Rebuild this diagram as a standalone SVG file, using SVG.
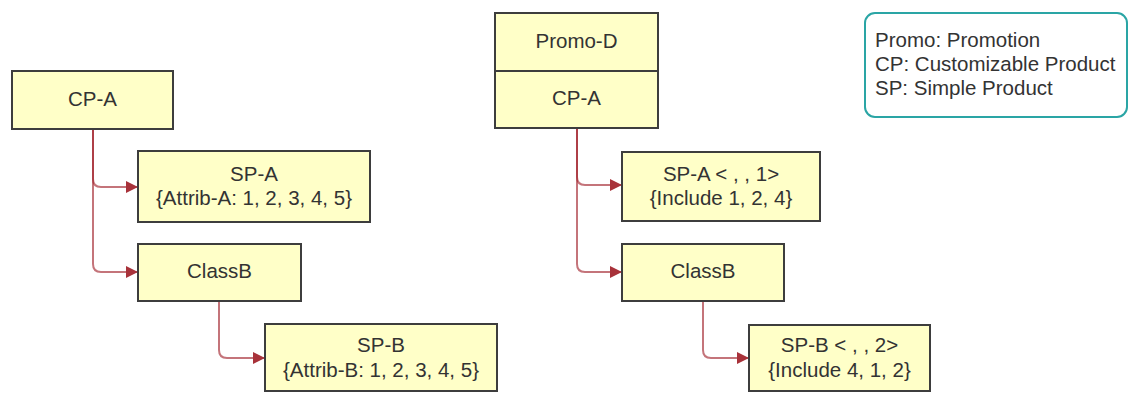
<svg xmlns="http://www.w3.org/2000/svg" width="1129" height="393" viewBox="0 0 1129 393">
<defs>
<style>
.box{fill:#ffffc8;stroke:#3d3d3d;stroke-width:2}
.t{font-family:"Liberation Sans",Arial,sans-serif;font-size:20.5px;fill:#333;text-anchor:middle}
.lg{font-family:"Liberation Sans",Arial,sans-serif;font-size:20.5px;fill:#333}
.c{fill:none;stroke:#a01e28;stroke-opacity:0.62;stroke-width:2}
</style>
<marker id="arr" markerUnits="userSpaceOnUse" markerWidth="13" markerHeight="13" refX="12" refY="6" orient="auto">
<path d="M0,0 L12,6 L0,12 z" fill="#a8323a"/>
</marker>
</defs>
<rect width="1129" height="393" fill="#fff"/>
<g id="connectors">
<path class="c" d="M93,129 V179 Q93,187 101,187 H138" marker-end="url(#arr)"/>
<path class="c" d="M93,129 V264 Q93,272 101,272 H138" marker-end="url(#arr)"/>
<path class="c" d="M219,301 V350 Q219,358 227,358 H265" marker-end="url(#arr)"/>
<path class="c" d="M577,128 V177 Q577,185 585,185 H622" marker-end="url(#arr)"/>
<path class="c" d="M577,128 V264 Q577,272 585,272 H622" marker-end="url(#arr)"/>
<path class="c" d="M703,301 V350 Q703,358 711,358 H749" marker-end="url(#arr)"/>
</g>
<g id="cpa-left">
<rect class="box" x="12" y="71" width="161" height="58"/>
<text class="t" x="92.5" y="106">CP-A</text>
</g>
<g id="spa-left">
<rect class="box" x="138" y="151" width="232" height="71"/>
<text class="t" x="254" y="181">SP-A</text>
<text class="t" x="254" y="205">{Attrib-A: 1, 2, 3, 4, 5}</text>
</g>
<g id="classb-left">
<rect class="box" x="138" y="244" width="163" height="57"/>
<text class="t" x="219.5" y="278">ClassB</text>
</g>
<g id="spb-left">
<rect class="box" x="265" y="324" width="232" height="67"/>
<text class="t" x="381" y="352">SP-B</text>
<text class="t" x="381" y="377">{Attrib-B: 1, 2, 3, 4, 5}</text>
</g>
<g id="promo-d">
<rect class="box" x="495" y="13" width="163" height="115"/>
<line x1="495" y1="71" x2="658" y2="71" stroke="#3d3d3d" stroke-width="2"/>
<text class="t" x="576.5" y="48">Promo-D</text>
<text class="t" x="576.5" y="105">CP-A</text>
</g>
<g id="spa-right">
<rect class="box" x="622" y="152" width="198" height="69"/>
<text class="t" x="721" y="181">SP-A &lt; , , 1&gt;</text>
<text class="t" x="721" y="205">{Include 1, 2, 4}</text>
</g>
<g id="classb-right">
<rect class="box" x="622" y="244" width="162" height="57"/>
<text class="t" x="703" y="278">ClassB</text>
</g>
<g id="spb-right">
<rect class="box" x="749" y="325" width="181" height="66"/>
<text class="t" x="839.5" y="352">SP-B &lt; , , 2&gt;</text>
<text class="t" x="839.5" y="377">{Include 4, 1, 2}</text>
</g>
<g id="legend">
<rect x="865" y="13" width="262" height="104" rx="10" fill="#fff" stroke="#2aa5a5" stroke-width="2"/>
<text class="lg" x="875" y="47">Promo: Promotion</text>
<text class="lg" x="875" y="71">CP: Customizable Product</text>
<text class="lg" x="875" y="95">SP: Simple Product</text>
</g>
</svg>
